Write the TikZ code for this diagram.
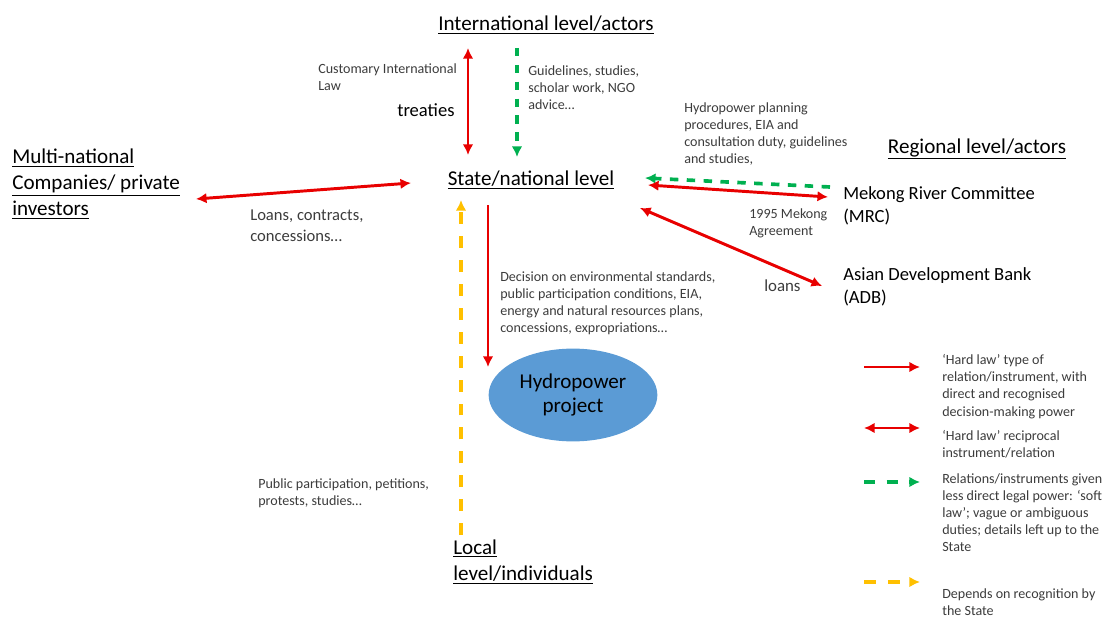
\documentclass[tikz,border=0pt]{standalone}
\usepackage{fontspec}
\setmainfont{Carlito}
\usetikzlibrary{positioning,arrows.meta,shapes.geometric}
\tikzset{>={Latex[length=7.5pt,width=7.5pt]}}
\definecolor{hardred}{RGB}{232,0,0}
\definecolor{softgreen}{RGB}{0,176,80}
\definecolor{localyellow}{RGB}{255,192,0}
\definecolor{projblue}{RGB}{91,155,213}
\definecolor{notegray}{RGB}{60,60,60}
\newcommand{\uln}[1]{\underline{#1}}
\tikzset{
  level/.style = {font=\fontsize{15}{18.4}\selectfont, align=left, inner sep=0pt},
  actor/.style = {font=\fontsize{13.2}{16.3}\selectfont, align=left, inner sep=0pt},
  note/.style = {font=\fontsize{10}{12.2}\selectfont, text=notegray, align=left, inner sep=0pt},
  hard/.style = {->, hardred, line width=2.1pt},
  mutual/.style = {<->, hardred, line width=2.1pt},
  soft/.style = {->, softgreen, line width=2.6pt, dash pattern=on 6pt off 6pt},
  local/.style = {->, localyellow, line width=2.6pt, dash pattern=on 8.5pt off 8.5pt}
}

\begin{document}
\begin{tikzpicture}[x=0.025cm,y=-0.025cm]
  \useasboundingbox (0,0) rectangle (1104,617);

  % actors
  \node[level] (intl) at (546,25) {\uln{International level/actors}};
  \node[level] (state) at (531,180) {\uln{State/national level}};
  \node[level,anchor=west] (companies) at (12,184)
    {\uln{Multi-national}\\\uln{Companies/ private}\\\uln{investors}};
  \node[level] (regional) at (977,149) {\uln{Regional level/actors}};
  \node[actor,anchor=west] (mrc) at (843,206) {Mekong River Committee\\(MRC)};
  \node[actor,anchor=west] (adb) at (843,287) {Asian Development Bank\\(ADB)};
  \node[ellipse,fill=projblue,minimum width=120pt,minimum height=66pt,
        font=\fontsize{15}{17.7}\selectfont,align=center] (project) at (573,395)
    {Hydropower\\project};
  \node[level,anchor=west] (local) at (453,562) {\uln{Local}\\\uln{level/individuals}};

  % labels
  \node[note,anchor=west] (customary) at (318,77.5) {Customary International\\Law};
  \node[actor,anchor=west] (treaties) at (397,110) {treaties};
  \node[note,anchor=west] (guidelines) at (528,88) {Guidelines, studies,\\scholar work, NGO\\advice\dots};
  \node[note,anchor=west,font=\fontsize{11.8}{14.8}\selectfont] (contracts) at (250,225.5)
    {Loans, contracts,\\concessions\dots};
  \node[note,anchor=west] (planning) at (684,134)
    {Hydropower planning\\procedures, EIA and\\consultation duty, guidelines\\and studies,};
  \node[note,anchor=west] (agreement) at (749,223) {1995 Mekong\\Agreement};
  \node[note,anchor=west,font=\fontsize{12}{14}\selectfont] (loans) at (764,286) {loans};
  \node[note,anchor=west] (decision) at (500,303)
    {Decision on environmental standards,\\public participation conditions, EIA,\\energy and natural resources plans,\\concessions, expropriations\dots};
  \node[note,anchor=west] (public) at (258,493.5) {Public participation, petitions,\\protests, studies\dots};

  % relations
  \draw[mutual] ([shift={(-78,23)}]intl.center) -- ([shift={(-63,-25)}]state.center);
  \draw[soft] ([shift={(-29,23)}]intl.center) -- ([shift={(-14,-23)}]state.center);
  \draw[mutual] ([shift={(184,15)}]companies.west) -- ([shift={(-120,3)}]state.center);
  \draw[soft] ([shift={(-13,-19)}]mrc.west) -- ([shift={(114,-2)}]state.center);
  \draw[mutual] ([shift={(117,5)}]state.center) -- ([shift={(-15,-9)}]mrc.west);
  \draw[mutual] ([shift={(109,28)}]state.center) -- ([shift={(-21,-1)}]adb.west);
  \draw[hard] ([shift={(-43,25)}]state.center) -- ([shift={(-85,-28)}]project.center);
  \draw[local] ([shift={(8,-27)}]local.west) -- ([shift={(-70,20)}]state.center);

  % legend
  \node[note,anchor=west] (hardkey) at (942,386.5)
    {`Hard law' type of\\relation/instrument, with\\direct and recognised\\decision-making power};
  \node[note,anchor=west] (mutualkey) at (942,444) {`Hard law' reciprocal\\instrument/relation};
  \node[note,anchor=west] (softkey) at (942,512.5)
    {Relations/instruments given\\less direct legal power: `soft\\law'; vague or ambiguous\\duties; details left up to the\\State};
  \node[note,anchor=west] (localkey) at (942,602) {Depends on recognition by\\the State};
  \draw[hard] ([shift={(-78,-19.5)}]hardkey.west) -- ([shift={(-22,-19.5)}]hardkey.west);
  \draw[mutual] ([shift={(-78,-16)}]mutualkey.west) -- ([shift={(-22,-16)}]mutualkey.west);
  \draw[soft,dash pattern=on 8pt off 8pt] ([shift={(-78,-30.5)}]softkey.west) -- ([shift={(-22,-30.5)}]softkey.west);
  \draw[local] ([shift={(-78,-20)}]localkey.west) -- ([shift={(-22,-20)}]localkey.west);
\end{tikzpicture}
\end{document}
